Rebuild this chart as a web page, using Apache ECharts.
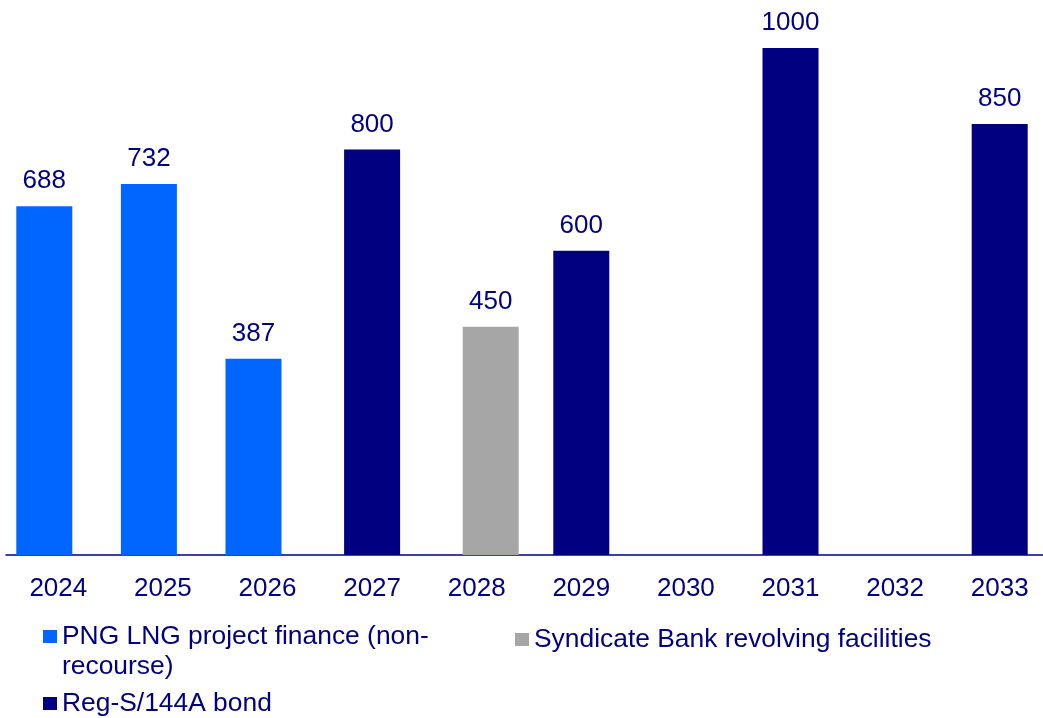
<!DOCTYPE html>
<html>
<head>
<meta charset="utf-8">
<script src="https://cdn.jsdelivr.net/npm/echarts@6/dist/echarts.min.js"></script>
<style>
  html, body { margin: 0; padding: 0; background: #ffffff; }
  #chart { width: 1043px; height: 718px; }
</style>
</head>
<body>
<div id="chart"></div>
<script>
const categories = ['2024', '2025', '2026', '2027', '2028', '2029', '2030', '2031', '2032', '2033'];
const pngLngValues = [688, 732, 387, null, null, null, null, null, null, null];
const regSBondValues = [null, null, null, 800, null, 600, null, 1000, null, 850];
const syndicateValues = [null, null, null, null, 450, null, null, null, null, null];
const seriesNames = {
  png: 'PNG LNG project finance (non-recourse)',
  syn: 'Syndicate Bank revolving facilities',
  reg: 'Reg-S/144A bond'
};

const FONT = "'Liberation Sans', Arial, sans-serif";
const TEXT = '#000080';
const chart = echarts.init(document.getElementById('chart'), null, { renderer: 'canvas' });

const labelCfg = {
  show: true,
  position: 'top',
  distance: 12,
  color: TEXT,
  fontSize: 26,
  lineHeight: 26,
  fontFamily: FONT
};

const legendText = { color: TEXT, fontSize: 26.4, fontFamily: FONT, lineHeight: 30 };
const legendBase = {
  orient: 'horizontal',
  icon: 'rect',
  itemWidth: 14,
  itemHeight: 13,
  padding: 0,
  selectedMode: false,
  textStyle: legendText
};

chart.setOption({
  animation: false,
  backgroundColor: '#ffffff',
  grid: { left: 6, width: 1046, top: 48, bottom: 163, containLabel: false, outerBoundsMode: 'none' },
  legend: [
    Object.assign({}, legendBase, {
      left: 43, top: 591.5,
      data: [seriesNames.png],
      formatter: function () { return '\nPNG LNG project finance (non-\nrecourse)'; }
    }),
    Object.assign({}, legendBase, { left: 515, top: 624.5, data: [seriesNames.syn] }),
    Object.assign({}, legendBase, { left: 43, top: 688.5, data: [seriesNames.reg] })
  ],
  xAxis: {
    type: 'category',
    data: categories,
    axisTick: { show: false },
    axisLine: { show: true, lineStyle: { color: TEXT, width: 1.5 } },
    axisLabel: { color: TEXT, fontSize: 26, lineHeight: 26, fontFamily: FONT, margin: 21, interval: 0 },
    splitLine: { show: false }
  },
  yAxis: {
    type: 'value',
    min: 0,
    max: 1000,
    show: false,
    splitLine: { show: false }
  },
  series: [
    { name: seriesNames.png, type: 'bar', data: pngLngValues, barWidth: 56, barGap: '-75%',
      itemStyle: { color: '#0066FF' }, label: labelCfg },
    { name: seriesNames.reg, type: 'bar', data: regSBondValues, barWidth: 56, barGap: '-75%',
      itemStyle: { color: '#000080' }, label: labelCfg },
    { name: seriesNames.syn, type: 'bar', data: syndicateValues, barWidth: 56, barGap: '-75%',
      itemStyle: { color: '#A6A6A6' }, label: labelCfg }
  ]
});
</script>
</body>
</html>
